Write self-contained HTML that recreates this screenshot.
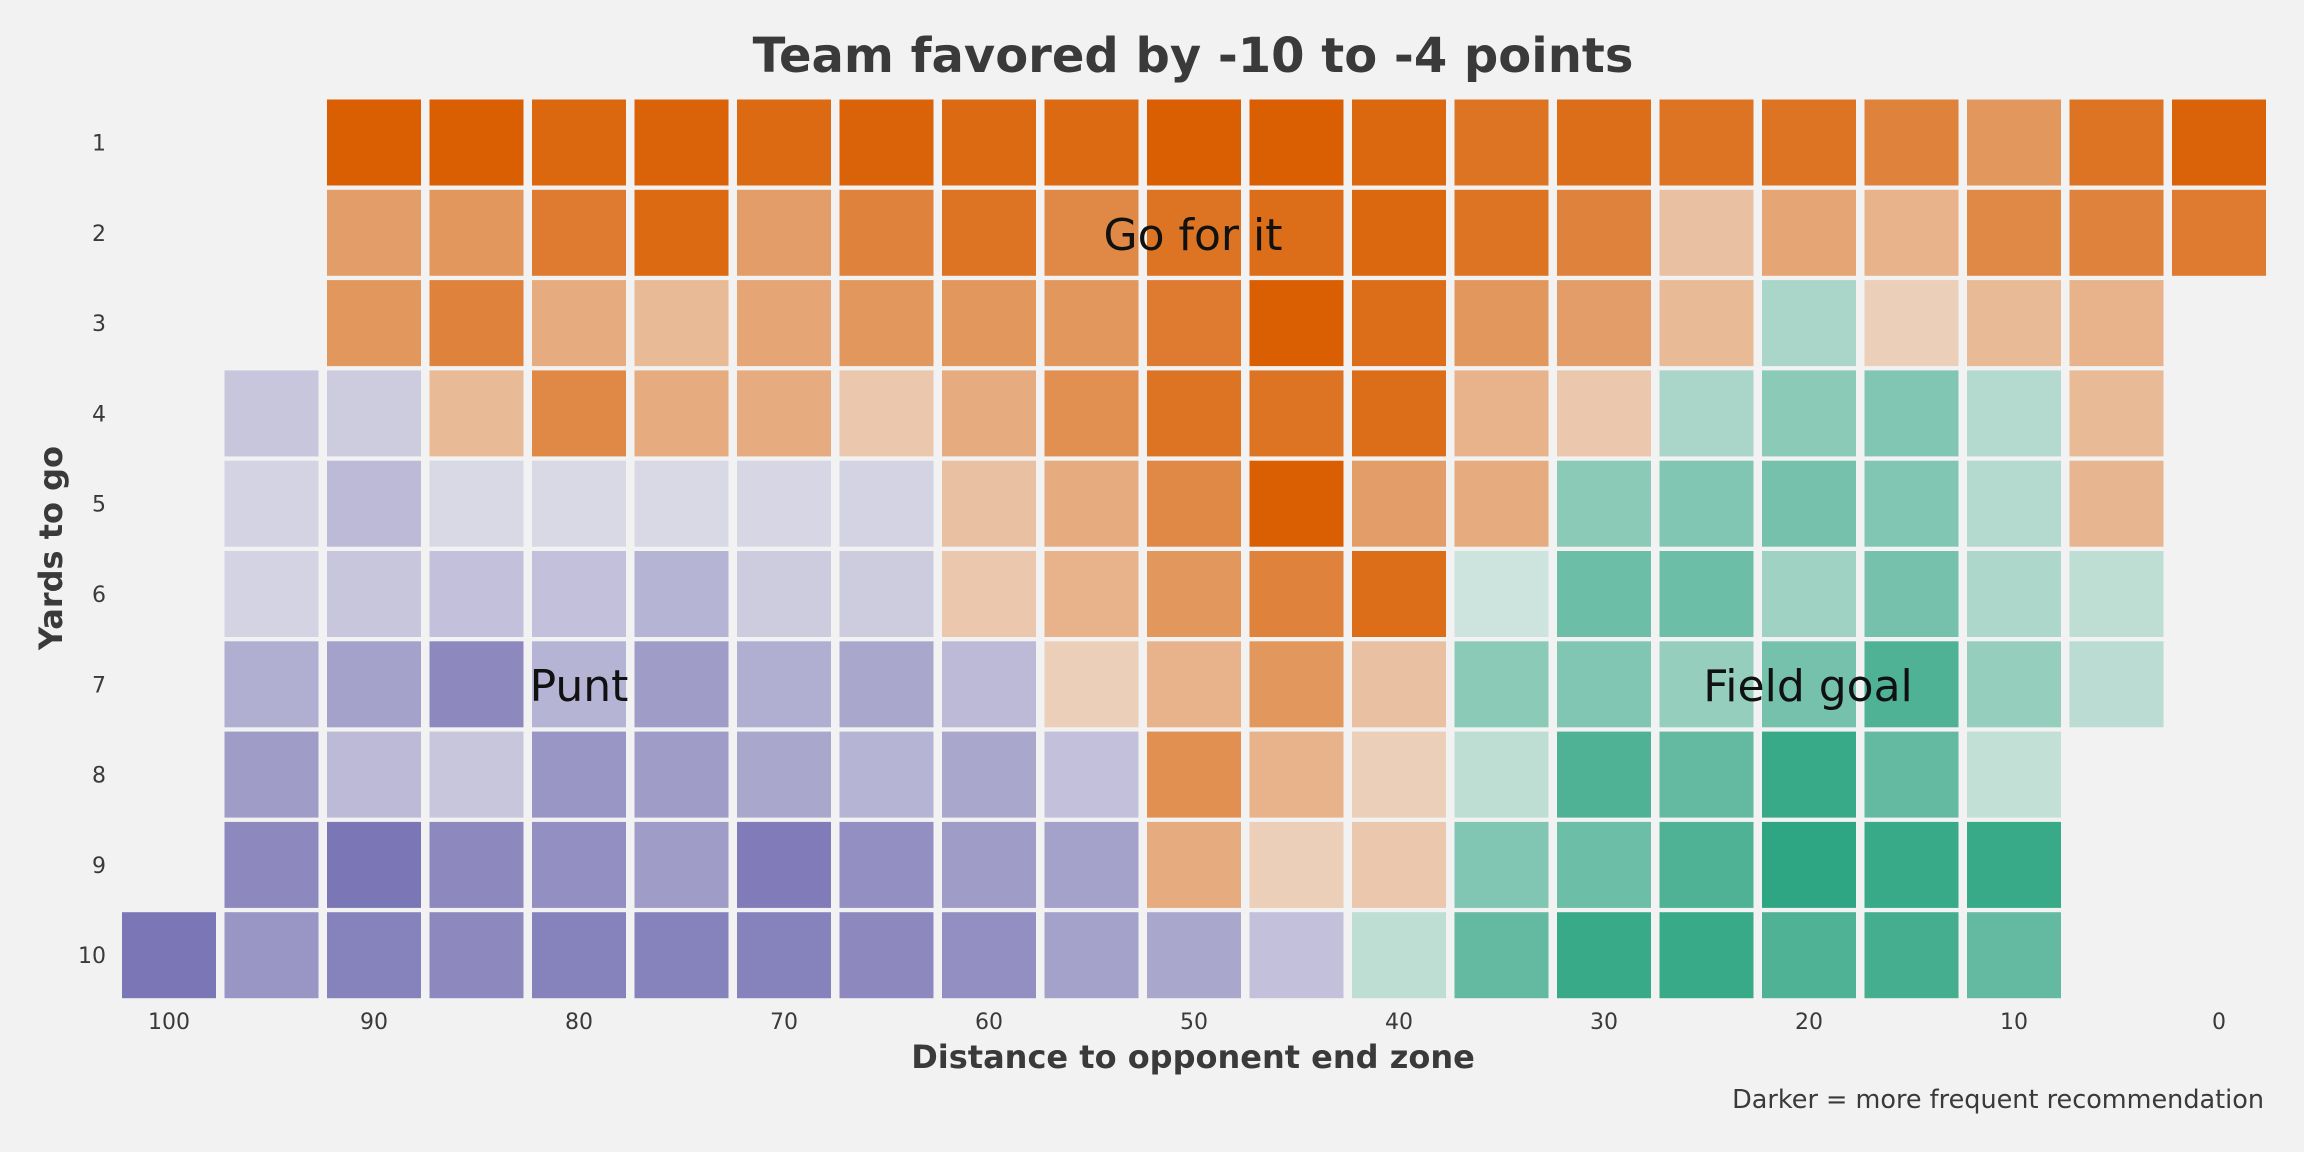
<!DOCTYPE html>
<html><head><meta charset="utf-8"><style>
html,body{margin:0;padding:0;background:#f2f2f2}
svg{display:block;font-family:"DejaVu Sans","Liberation Sans",sans-serif}
</style></head><body>
<svg id="c" width="2304" height="1152" xmlns="http://www.w3.org/2000/svg">
<rect width="2304" height="1152" fill="#f2f2f2"/>
<text x="1193" y="72" text-anchor="middle" font-size="48" font-weight="bold" fill="#3a3a3a">Team favored by -10 to -4 points</text>
<g id="cells"></g>
<g id="xt"></g>
<g id="yt"></g>
<text x="1193" y="1068" text-anchor="middle" font-size="32" font-weight="bold" fill="#3a3a3a">Distance to opponent end zone</text>
<text transform="translate(62,548) rotate(-90)" text-anchor="middle" font-size="32" font-weight="bold" fill="#3a3a3a">Yards to go</text>
<text x="2264" y="1108" text-anchor="end" font-size="25.5" fill="#3a3a3a">Darker = more frequent recommendation</text>
<text x="1193" y="250" text-anchor="middle" font-size="44" fill="#111">Go for it</text>
<text x="579" y="701" text-anchor="middle" font-size="44" fill="#111">Punt</text>
<text x="1808" y="701" text-anchor="middle" font-size="44" fill="#111">Field goal</text>
</svg>
<script>
const distances=[100,95,90,85,80,75,70,65,60,55,50,45,40,35,30,25,20,15,10,5,0];
const yardsToGo=[1,2,3,4,5,6,7,8,9,10];
const xTicks=[100,90,80,70,60,50,40,30,20,10,0];
// decision per row (G=go, P=punt, F=field goal, .=none), columns follow distances
const decisions=[
"..GGGGGGGGGGGGGGGGGGG",
"..GGGGGGGGGGGGGGGGGGG",
"..GGGGGGGGGGGGGGFGGG.",
".PPGGGGGGGGGGGGFFFFG.",
".PPPPPPPGGGGGGFFFFFG.",
".PPPPPPPGGGGGFFFFFFF.",
".PPPPPPPPGGGGFFFFFFF.",
".PPPPPPPPPGGGFFFFFF..",
".PPPPPPPPPGGGFFFFFF..",
"PPPPPPPPPPPPFFFFFFF.."];
const freq=[
[0,0,1,1,.95,.97,.93,.97,.93,.93,1,1,.95,.85,.9,.85,.85,.75,.6,.85,.97],
[0,0,.55,.6,.8,.93,.55,.75,.85,.7,.85,.9,.95,.85,.75,.3,.5,.4,.7,.75,.8],
[0,0,.6,.75,.45,.35,.5,.6,.6,.6,.8,1,.9,.6,.55,.35,.3,.2,.35,.4,0],
[0,.3,.25,.35,.7,.45,.45,.25,.45,.65,.85,.85,.9,.4,.25,.3,.45,.5,.25,.35,0],
[0,.2,.4,.15,.15,.15,.17,.2,.3,.45,.7,1,.55,.45,.45,.5,.55,.5,.25,.38,0],
[0,.2,.3,.35,.35,.45,.25,.25,.25,.4,.6,.75,.9,.13,.6,.6,.35,.55,.28,.2,0],
[0,.5,.6,.8,.45,.65,.5,.55,.4,.2,.4,.6,.3,.45,.5,.4,.55,.75,.4,.22,0],
[0,.65,.4,.3,.7,.65,.55,.45,.55,.35,.65,.4,.2,.2,.75,.65,.85,.65,.18,0,0],
[0,.8,.95,.8,.75,.65,.9,.75,.65,.6,.45,.2,.25,.5,.6,.75,.9,.85,.85,0,0],
[.95,.7,.85,.8,.85,.85,.85,.8,.75,.6,.55,.35,.2,.65,.85,.85,.75,.8,.65,0,0]];
const colors={G:"#d95f02",P:"#7570b3",F:"#1b9e77"};
const NS="http://www.w3.org/2000/svg";
const x=d=>169+(100-d)/5*102.5;
const y=r=>142.5+(r-1)*90.3;
const cells=document.getElementById('cells');
yardsToGo.forEach((r,ri)=>{distances.forEach((d,ci)=>{
 const t=decisions[ri][ci]; if(t==='.')return;
 const v=freq[ri][ci];
 const el=document.createElementNS(NS,'rect');
 el.setAttribute('x',x(d)-47);el.setAttribute('y',y(r)-43);
 el.setAttribute('width',94);el.setAttribute('height',86);
 el.setAttribute('fill',colors[t]);el.setAttribute('fill-opacity',0.05+0.95*v);
 
 
 cells.appendChild(el);});});
const xt=document.getElementById('xt');
xTicks.forEach(d=>{const el=document.createElementNS(NS,'text');
 el.setAttribute('x',x(d));el.setAttribute('y',1029);el.setAttribute('text-anchor','middle');
 el.setAttribute('font-size','22');el.setAttribute('fill','#3a3a3a');el.textContent=d;
 
 
 xt.appendChild(el);});
const yt=document.getElementById('yt');
yardsToGo.forEach(r=>{const el=document.createElementNS(NS,'text');
 el.setAttribute('x',106);el.setAttribute('y',y(r)+8);el.setAttribute('text-anchor','end');
 el.setAttribute('font-size','22');el.setAttribute('fill','#3a3a3a');el.textContent=r;
 
 
 yt.appendChild(el);});
</script>
</body></html>
